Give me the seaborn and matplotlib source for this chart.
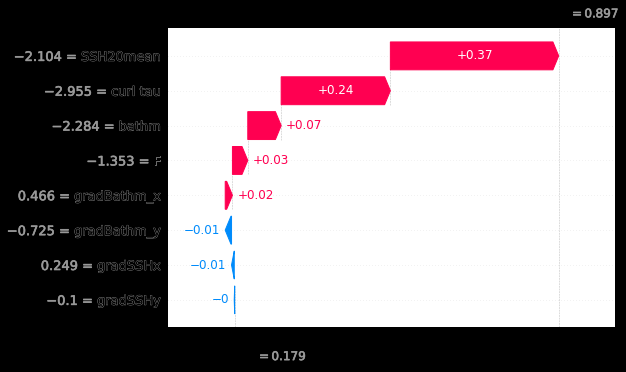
import re
import numpy as np
import matplotlib
matplotlib.use("Agg")
import matplotlib.pyplot as plt
import matplotlib.patheffects as pe
import seaborn as sns

# rows listed top to bottom, as drawn
features = ["SSH20mean", "curl tau", "bathm", "F", "gradBathm_x", "gradBathm_y", "gradSSHx", "gradSSHy"]
feature_values = [-2.104, -2.955, -2.284, -1.353, 0.466, -0.725, 0.249, -0.1]
shap_values = [0.373, 0.242, 0.074, 0.034, 0.016, -0.014, -0.006, -0.001]
base_value = 0.179

red = "#ff0051"
blue = "#008bfb"
gray = "#999999"


def fmt(v, f):
    s = f % v
    s = re.sub(r"\.?0+$", "", s)
    if s[0] == "-":
        s = "\u2212" + s[1:]
    return s


sns.set_style("white")
plt.rcParams["font.family"] = ["DejaVu Sans"]

W, H, DPI = 626, 372, 72
fig = plt.figure(figsize=(W / DPI, H / DPI), dpi=DPI, facecolor="black")
ax = fig.add_axes([168 / W, 1 - 326.7 / H, 447 / W, (326.7 - 28) / H])
ax.set_facecolor("white")

n = len(features)
rows = np.arange(n - 1, -1, -1)
fx = base_value + sum(shap_values)

xmin, xmax = 0.0312, 1.0218
ax.set_xlim(xmin, xmax)
ax.set_ylim(-0.77, 7.8)

# arrow head size like shap's waterfall
bbox = ax.get_window_extent().transformed(fig.dpi_scale_trans.inverted())
xscale = (xmax - xmin) / bbox.width
hl = 0.08 * xscale
renderer = fig.canvas.get_renderer()

loc = fx
for i in range(n):
    v = shap_values[i]
    loc -= v
    y = rows[i]
    if i + 4 < n:
        ax.plot([loc, loc], [y - 1.4, y + 0.4], color="#bbbbbb", linestyle="--", linewidth=0.5, zorder=-1)
    label = fmt(v, "%+0.02f")
    if v >= 0:
        arr = ax.arrow(loc, y, max(v - hl, 1e-6), 0, head_length=min(v, hl),
                       color=red, width=0.8, head_width=0.8)
        txt = ax.text(loc + 0.5 * v, y, label, ha="center", va="center", color="white", fontsize=12)
        if txt.get_window_extent(renderer).width > arr.get_window_extent(renderer).width:
            txt.remove()
            ax.text(loc + v + 5 / 72 * xscale, y, label, ha="left", va="center", color=red, fontsize=12)
    else:
        arr = ax.arrow(loc, y, -max(-v - hl, 1e-6), 0, head_length=min(-v, hl),
                       color=blue, width=0.8, head_width=0.8)
        txt = ax.text(loc + 0.5 * v, y, label, ha="center", va="center", color="white", fontsize=12)
        if txt.get_window_extent(renderer).width > arr.get_window_extent(renderer).width:
            txt.remove()
            ax.text(loc + v - 5 / 72 * xscale, y, label, ha="right", va="center", color=blue, fontsize=12)

for y in range(n):
    ax.axhline(y, color="#cccccc", lw=0.5, dashes=(1, 5), zorder=-1)

ax.axvline(base_value, 0, 1 / n, color="#bbbbbb", linestyle="--", linewidth=0.5, zorder=-1)
ax.axvline(fx, 0, 1, color="#bbbbbb", linestyle="--", linewidth=0.5, zorder=-1)

# feature names as tick labels: dark glyphs with a thin gray rim
ax.set_yticks(rows)
ax.set_yticklabels(features, fontsize=13)
ax.yaxis.set_ticks_position("none")
for t in ax.yaxis.get_majorticklabels():
    t.set_color("black")
    t.set_path_effects([pe.withStroke(linewidth=0.7, foreground=gray)])

ax.set_xticks([])
sns.despine(ax=ax, left=True, top=True, right=True)
ax.spines["bottom"].set_color("black")

# gray "value =" part, placed just left of each name
fig.canvas.draw()
ax_x0 = ax.get_window_extent().x0
thick = [pe.withStroke(linewidth=0.6, foreground=gray)]
for t, fv, y in zip(ax.yaxis.get_majorticklabels(), feature_values, rows):
    bb = t.get_window_extent(renderer)
    ax.annotate(fmt(fv, "%0.03f") + " =", xy=(0, y), xycoords=("axes fraction", "data"),
                xytext=(bb.x0 - ax_x0 - 4.1, 0), textcoords="offset points",
                ha="right", va="center_baseline", color=gray, fontsize=13,
                annotation_clip=False, path_effects=thick)

ax.annotate("$ = " + fmt(base_value, "%0.03f") + "$", xy=(base_value, 0), xycoords=("data", "axes fraction"),
            xytext=(22, -30), textcoords="offset points", ha="left", va="center",
            color=gray, fontsize=12, annotation_clip=False, path_effects=thick)
ax.annotate("$ = " + fmt(fx, "%0.03f") + "$", xy=(fx, 1), xycoords=("data", "axes fraction"),
            xytext=(11, 14), textcoords="offset points", ha="left", va="center",
            color=gray, fontsize=12, annotation_clip=False, path_effects=thick)

fig.savefig("out.png", dpi=DPI, facecolor=fig.get_facecolor())
